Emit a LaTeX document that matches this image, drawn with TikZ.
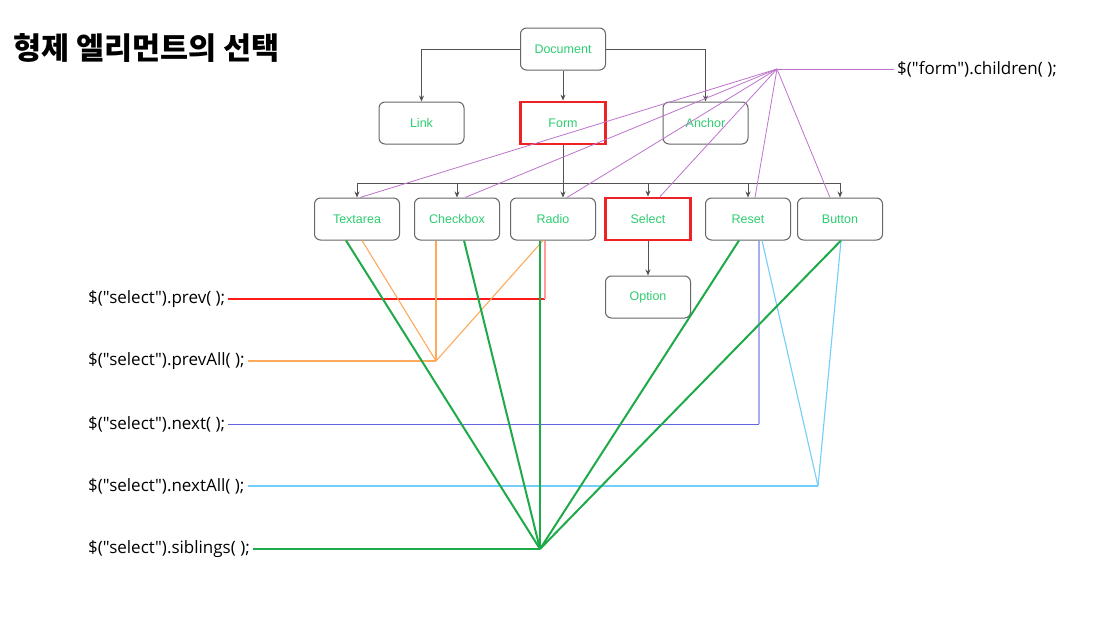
\documentclass[tikz,border=0pt]{standalone}
\usepackage{fontspec}
\usepackage{tikz}
\usetikzlibrary{arrows.meta}
\setmainfont{Open Sans}[Ligatures=TeXOff]
\newfontfamily\boxfont{Liberation Sans}
\newfontfamily\krfont{Noto Sans CJK KR}
\newcommand\qt{\symbol{34}}
\definecolor{boxgreen}{HTML}{2DCC70}
\definecolor{boxgray}{HTML}{666666}
\definecolor{selred}{HTML}{EE2222}
\definecolor{childpurple}{HTML}{BD73CC}
\definecolor{prevred}{HTML}{FF1A1A}
\definecolor{prevpink}{HTML}{FF9C9C}
\definecolor{prevorange}{HTML}{FFA95C}
\definecolor{nextblue}{HTML}{6464E2}
\definecolor{nextlav}{HTML}{ABABF0}
\definecolor{nextsky}{HTML}{72CEFA}
\definecolor{sibgreen}{HTML}{1FAA4A}
\tikzset{
  elem/.style={draw=boxgray, line width=1pt, rounded corners=6pt, minimum width=85pt,
    minimum height=42pt, text=boxgreen, font=\boxfont\fontsize{12.5}{14}\selectfont},
  picked/.style={elem, draw=selred, line width=2.8pt, sharp corners},
  tree/.style={draw=boxgray!80!black, line width=0.9pt, -{Stealth[length=6pt,width=5pt]}},
  call/.style={anchor=west, inner sep=3pt, font=\fontsize{17}{20}\selectfont},
  childline/.style={draw=childpurple, line width=0.8pt},
  prevline/.style={draw=prevred, line width=1.2pt},
  prevallline/.style={draw=prevorange, line width=1.1pt},
  nextline/.style={draw=nextblue, line width=1pt},
  nextallline/.style={draw=nextsky, line width=1.1pt},
  sibline/.style={draw=sibgreen, line width=2pt}
}
\begin{document}
\begin{tikzpicture}[x=1pt, y=-1pt]
  \useasboundingbox (0,0) rectangle (1104,624);
  \node[anchor=west, inner sep=0pt, font=\krfont\bfseries\fontsize{30.5}{34}\selectfont] (title) at (13,48) {형제 엘리먼트의 선택};

  \node[elem] (document) at (563,49) {Document};
  \node[elem] (link) at (421.5,123) {Link};
  \node[picked] (form) at (563,123) {Form};
  \node[elem] (anchor) at (705.5,123) {Anchor};
  \node[elem] (textarea) at (357,219) {Textarea};
  \node[elem] (checkbox) at (457,219) {Checkbox};
  \node[elem] (radio) at (553,219) {Radio};
  \node[picked] (select) at (648,219) {Select};
  \node[elem] (reset) at (748,219) {Reset};
  \node[elem] (button) at (840,219) {Button};
  \node[elem] (option) at (648,297) {Option};

  \node[call] (childrenlbl) at (894,69) {\$(\qt form\qt).children( );};
  \node[call] (prevlbl) at (85,299) {\$(\qt select\qt).prev( );};
  \node[call] (prevalllbl) at (85,361) {\$(\qt select\qt).prevAll( );};
  \node[call] (nextlbl) at (85,424) {\$(\qt select\qt).next( );};
  \node[call] (nextalllbl) at (85,486) {\$(\qt select\qt).nextAll( );};
  \node[call] (siblingslbl) at (85,549) {\$(\qt select\qt).siblings( );};

  \coordinate (bus) at (563,183);
  \coordinate (fc) at (777,69);
  \coordinate (pc) at (545,299);
  \coordinate (pa) at (436,361);
  \coordinate (nc) at (759,424);
  \coordinate (na) at (818,486);
  \coordinate (sb) at (540,549);

  \draw[tree] (document.west) -| (link.north);
  \draw[tree] (document.east) -| (anchor.north);
  \draw[tree] (document) -- (form);
  \draw[tree] (form.south) -- (form.south |- radio.north);
  \draw[boxgray!80!black, line width=0.9pt] (textarea.north |- bus) -- (button.north |- bus);
  \foreach \n in {textarea,checkbox,select,reset,button}
    \draw[tree] (\n.north |- bus) -- (\n.north);
  \draw[tree] (select) -- (option);

  \draw[childline] (fc) -- (childrenlbl.west);
  \foreach \n/\dx in {textarea/3,checkbox/8,radio/14,select/12,reset/7,button/-10}
    \draw[childline] (fc) -- ([xshift=\dx pt]\n.north);

  \draw[prevline] (prevlbl.east) -- (pc);
  \draw[draw=prevpink, line width=1.1pt] (pc) -- ([xshift=-8pt]radio.south);

  \draw[prevallline] (prevalllbl.east) -- (pa);
  \foreach \n/\dx in {textarea/5,checkbox/-21,radio/-10}
    \draw[prevallline] (pa) -- ([xshift=\dx pt]\n.south);

  \draw[nextline] (nextlbl.east) -- (nc);
  \draw[draw=nextlav, line width=1.1pt] (nc) -- ([xshift=11pt]reset.south);

  \draw[nextallline] (nextalllbl.east) -- (na);
  \draw[nextallline] (na) -- ([xshift=14pt]reset.south);
  \draw[nextallline] (na) -- ([xshift=1pt]button.south);

  \draw[sibline] (siblingslbl.east) -- (sb);
  \foreach \n/\dx in {textarea/-11,checkbox/7,radio/-13,reset/-9,button/1}
    \draw[sibline] (sb) -- ([xshift=\dx pt]\n.south);
\end{tikzpicture}
\end{document}
